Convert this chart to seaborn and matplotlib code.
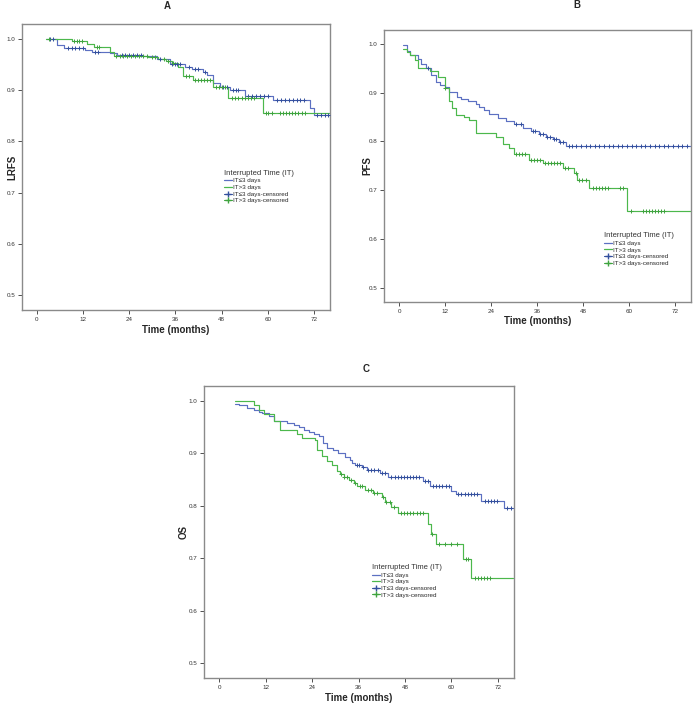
import numpy as np
import pandas as pd
import matplotlib
matplotlib.use('Agg')
import matplotlib.pyplot as plt
from matplotlib.lines import Line2D
import seaborn as sns

sns.set_style('white')
plt.rcParams['font.family'] = ['Liberation Sans', 'DejaVu Sans']

# A : LRFS
a_lo_t = [2.4, 5.1, 6.9, 12.5, 14.3, 19.0, 20.8, 27.7, 31.2, 34.5, 38.5, 40.3, 43.3, 44.2, 45.9, 47.7, 50.3, 54.2, 61.5, 70.9, 72.0, 76.0]
a_lo_s = [1.0, 0.988, 0.982, 0.979, 0.975, 0.972, 0.969, 0.966, 0.960, 0.951, 0.946, 0.941, 0.936, 0.930, 0.913, 0.906, 0.900, 0.889, 0.881, 0.866, 0.851, 0.851]
a_lo_c = [3.4, 4.1, 8.0, 9.0, 10.0, 11.0, 12.0, 15.0, 16.0, 22.0, 23.0, 24.0, 25.0, 26.0, 27.0, 32.0, 35.1, 35.8, 36.5, 37.2,
          39.5, 41.0, 42.0, 43.8, 48.5, 49.5, 51.0, 51.7, 52.4, 55.0, 56.0, 57.0, 58.0, 59.0, 60.0, 62.5, 63.5, 64.5,
          65.5, 66.5, 67.5, 68.5, 69.5, 72.8, 73.8, 74.8, 75.8]
a_hi_t = [2.4, 9.0, 13.0, 14.9, 19.0, 20.0, 29.0, 31.5, 33.5, 35.0, 36.8, 38.0, 40.5, 45.9, 49.8, 58.9, 76.0]
a_hi_s = [1.0, 0.995, 0.990, 0.985, 0.975, 0.967, 0.964, 0.960, 0.956, 0.952, 0.946, 0.928, 0.920, 0.906, 0.885, 0.856, 0.856]
a_hi_c = [3.0, 9.5, 10.3, 11.0, 11.8, 15.5, 16.2, 20.5, 21.5, 22.5, 23.5, 24.5, 25.5, 26.5, 27.5, 28.5, 30.0, 30.8,
          33.0, 34.0, 35.5, 38.8, 39.5, 41.0, 41.8, 42.6, 43.4, 44.2, 45.0, 46.5, 47.3, 48.0, 48.8, 50.8, 51.6, 52.4,
          53.2, 54.0, 54.8, 55.6, 56.4, 59.5, 60.2, 61.0, 63.2, 64.0, 64.8, 65.6, 66.4, 67.2, 68.0, 68.8, 69.6]

# B : PFS
b_lo_t = [1.0, 2.1, 2.9, 4.9, 5.8, 7.1, 8.4, 9.7, 10.6, 11.9, 12.9, 15.1, 16.2, 17.9, 20.1, 20.9, 22.2, 23.5, 25.7,
          27.9, 30.0, 32.2, 34.3, 36.5, 38.2, 40.0, 41.7, 43.4, 76.0]
b_lo_s = [0.999, 0.985, 0.978, 0.969, 0.960, 0.951, 0.937, 0.923, 0.916, 0.912, 0.901, 0.892, 0.888, 0.884, 0.877,
          0.871, 0.864, 0.857, 0.848, 0.843, 0.836, 0.827, 0.822, 0.815, 0.810, 0.805, 0.798, 0.790, 0.790]
b_lo_c = [7.4, 30.5, 31.7, 34.8, 35.5, 36.8, 37.5, 38.6, 39.3, 40.3, 41.0, 42.0, 42.6, 44.2, 45.0, 46.2, 47.4, 48.6,
          49.8, 51.0, 52.2, 53.4, 54.6, 55.8, 57.0, 58.2, 59.4, 60.6, 61.8, 63.0, 64.2, 65.4, 66.6, 67.8, 69.0,
          70.2, 71.4, 72.6, 73.8, 75.0]
b_hi_t = [1.0, 1.9, 2.8, 4.1, 4.9, 8.0, 10.1, 11.9, 12.9, 13.8, 14.9, 17.0, 18.2, 19.9, 20.1, 25.3, 27.0, 28.7, 30.0,
          33.9, 37.4, 42.6, 45.6, 46.4, 49.5, 59.4, 76.0]
b_hi_s = [0.990, 0.984, 0.977, 0.968, 0.951, 0.944, 0.932, 0.910, 0.884, 0.868, 0.855, 0.850, 0.845, 0.836, 0.817,
          0.810, 0.795, 0.786, 0.775, 0.762, 0.755, 0.745, 0.735, 0.721, 0.705, 0.658, 0.658]
b_hi_c = [12.0, 30.5, 31.3, 32.1, 32.9, 34.5, 35.2, 36.0, 36.8, 38.0, 38.8, 39.6, 40.4, 41.2, 42.0, 43.2, 44.0, 46.0,
          47.0, 47.8, 48.6, 50.5, 51.3, 52.1, 52.9, 53.7, 54.5, 57.5, 58.3, 60.5, 63.5, 64.3, 65.1, 65.9, 66.7,
          67.5, 68.3, 69.1]

# C : OS
c_lo_t = [4.0, 5.1, 7.2, 8.9, 10.2, 11.1, 12.8, 14.1, 17.5, 19.2, 20.5, 21.8, 23.1, 24.4, 25.7, 26.9, 27.8, 29.5,
          30.8, 32.5, 33.8, 34.2, 35.1, 36.8, 38.1, 41.5, 43.7, 52.7, 54.4, 60.0, 61.1, 67.7, 73.7, 76.0]
c_lo_s = [0.995, 0.992, 0.987, 0.983, 0.979, 0.976, 0.971, 0.962, 0.958, 0.954, 0.950, 0.945, 0.941, 0.937, 0.933,
          0.919, 0.911, 0.906, 0.900, 0.893, 0.887, 0.881, 0.878, 0.873, 0.869, 0.862, 0.854, 0.848, 0.838, 0.829,
          0.822, 0.810, 0.795, 0.795]
c_lo_c = [35.5, 36.2, 37.2, 38.5, 39.3, 40.1, 40.9, 42.0, 42.8, 44.5, 45.3, 46.1, 46.9, 47.7, 48.5, 49.3, 50.1, 50.9,
          51.7, 53.2, 54.0, 55.3, 56.1, 56.9, 57.7, 58.5, 59.3, 61.8, 62.6, 63.4, 64.2, 65.0, 65.8, 66.6, 68.6,
          69.4, 70.2, 71.0, 71.8, 74.5, 75.3]
c_hi_t = [4.0, 8.9, 10.2, 11.5, 14.1, 15.8, 20.1, 21.4, 24.8, 25.2, 26.5, 27.8, 29.1, 30.4, 31.2, 32.1, 33.4, 34.7,
          35.5, 37.7, 39.8, 42.0, 42.8, 44.5, 46.2, 54.0, 54.8, 55.9, 63.0, 65.1, 76.0]
c_hi_s = [1.0, 0.992, 0.983, 0.975, 0.962, 0.945, 0.937, 0.930, 0.925, 0.906, 0.895, 0.886, 0.878, 0.867, 0.860,
          0.855, 0.849, 0.844, 0.838, 0.831, 0.825, 0.817, 0.808, 0.798, 0.786, 0.766, 0.747, 0.728, 0.698, 0.662, 0.662]
c_hi_c = [31.5, 32.3, 33.0, 34.0, 35.0, 36.3, 37.0, 38.5, 39.3, 40.0, 40.8, 42.3, 43.2, 44.2, 45.2, 47.0, 47.8,
          48.6, 49.4, 50.2, 51.0, 51.8, 52.6, 55.1, 56.8, 58.4, 59.9, 61.5, 63.8, 64.4, 66.0, 66.8, 67.6, 68.4,
          69.2, 70.0]

labels = ['IT\u22643 days', 'IT>3 days', 'IT\u22643 days-censored', 'IT>3 days-censored']
blue_line, blue_mark = '#5c70c2', '#34509e'
green_line, green_mark = '#4cb84c', '#3fa43f'
grey = '#8a8a8a'


def censor_y(t, s, c):
    idx = np.searchsorted(t, c, side='right') - 1
    return np.array(s)[idx]


def km_panel(ax, ylab, ylab_x, lo, hi, leg_xy):
    for (t, s, c), lc, mc in [(lo, blue_line, blue_mark), (hi, green_line, green_mark)]:
        df = pd.DataFrame({'t': t, 's': s})
        sns.lineplot(data=df, x='t', y='s', ax=ax, color=lc, lw=0.85, drawstyle='steps-post')
        cdf = pd.DataFrame({'t': c, 's': censor_y(t, s, c)})
        sns.scatterplot(data=cdf, x='t', y='s', ax=ax, color=mc, marker='+', s=11, linewidth=0.7, zorder=3)
    ax.set_xlim(-3.9, 76.2)
    ax.set_ylim(0.471, 1.029)
    ax.set_xticks([0, 12, 24, 36, 48, 60, 72])
    ax.set_yticks([0.5, 0.6, 0.7, 0.8, 0.9, 1.0])
    ax.tick_params(labelsize=4.5, length=3, width=0.6, colors='#333333', pad=2, left=True, bottom=True)
    for sp in ax.spines.values():
        sp.set_color(grey)
        sp.set_linewidth(1.0)
    ax.set_xlabel('Time (months)', fontsize=7, fontweight='bold', labelpad=2)
    ax.set_ylabel(ylab, fontsize=7, fontweight='bold')
    ax.yaxis.set_label_coords(ylab_x, 0.5)
    handles = [Line2D([], [], color=blue_line, lw=0.9),
               Line2D([], [], color=green_line, lw=0.9),
               Line2D([], [], color=blue_mark, lw=0.8, marker='+', ms=5),
               Line2D([], [], color=green_mark, lw=0.8, marker='+', ms=5)]
    leg = ax.legend(handles, labels, title='Interrupted Time (IT)', loc='upper left', bbox_to_anchor=leg_xy,
                    frameon=False, fontsize=4.5, title_fontsize=5.5, handlelength=1.3, handletextpad=0.2,
                    labelspacing=0.2, borderpad=0, borderaxespad=0, alignment='left')
    leg.get_title().set_color('#333333')


fig = plt.figure(figsize=(7, 7.09), dpi=100)
ax_a = fig.add_axes([0.0314, 0.5628, 0.44, 0.4033])
ax_b = fig.add_axes([0.549, 0.5745, 0.4386, 0.3832])
ax_c = fig.add_axes([0.2919, 0.0433, 0.4424, 0.4127])

km_panel(ax_a, 'LRFS', -0.016, (a_lo_t, a_lo_s, a_lo_c), (a_hi_t, a_hi_s, a_hi_c), (0.655, 0.49))
km_panel(ax_b, 'PFS', -0.04, (b_lo_t, b_lo_s, b_lo_c), (b_hi_t, b_hi_s, b_hi_c), (0.715, 0.255))
km_panel(ax_c, 'OS', -0.05, (c_lo_t, c_lo_s, c_lo_c), (c_hi_t, c_hi_s, c_hi_c), (0.54, 0.39))

# panel letters
fig.text(167.7 / 700, 1 - 6 / 709, 'A', fontsize=7, fontweight='bold', ha='center', va='center')
fig.text(576.7 / 700, 1 - 5 / 709, 'B', fontsize=7, fontweight='bold', ha='center', va='center')
fig.text(366 / 700, 1 - 369 / 709, 'C', fontsize=7, fontweight='bold', ha='center', va='center')

fig.savefig('out.png', dpi=100)
